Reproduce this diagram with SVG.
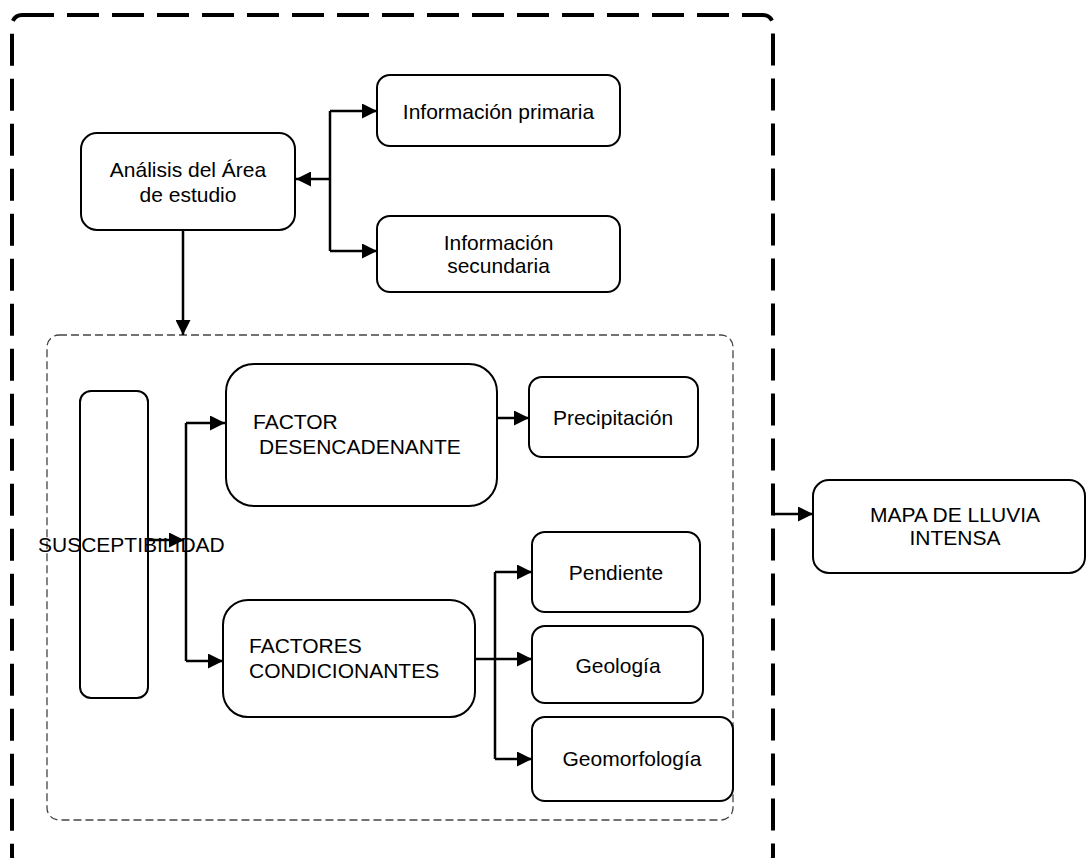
<svg xmlns="http://www.w3.org/2000/svg" width="1086" height="858" viewBox="0 0 1086 858">
<style>
.node{fill:#fff;stroke:#000;stroke-width:2}
.t{font-family:"Liberation Sans",Arial,sans-serif;font-size:21px;fill:#000}
.c{text-anchor:middle}
.con{fill:none;stroke:#000;stroke-width:2.5}
</style>
<defs>
<marker id="ah" markerUnits="userSpaceOnUse" markerWidth="15" markerHeight="15" refX="15" refY="7.5" orient="auto">
<path d="M0,0 L15,7.5 L0,15 z" fill="#000"/>
</marker>
</defs>
<rect width="1086" height="858" fill="#fff"/>
<g id="outer">
<rect x="12" y="15" width="761" height="851" rx="10" fill="none" stroke="#000" stroke-width="4" stroke-dasharray="32 13"/>
</g>
<g id="inner">
<rect x="47" y="335" width="686" height="485" rx="12" fill="none" stroke="#444" stroke-width="1.3" stroke-dasharray="8 4"/>
</g>
<g id="connectors">
<path class="con" d="M330 179 L296 179" marker-end="url(#ah)"/>
<path class="con" d="M330 111 L330 251"/>
<path class="con" d="M330 111 L377 111" marker-end="url(#ah)"/>
<path class="con" d="M330 251 L377 251" marker-end="url(#ah)"/>
<path class="con" d="M183 230 L183 335" marker-end="url(#ah)"/>
<path class="con" d="M148 540 L184 540" marker-end="url(#ah)"/>
<path class="con" d="M186 423 L186 661"/>
<path class="con" d="M186 423 L225 423" marker-end="url(#ah)"/>
<path class="con" d="M186 661 L223 661" marker-end="url(#ah)"/>
<path class="con" d="M497 418 L529 418" marker-end="url(#ah)"/>
<path class="con" d="M475 659 L532 659" marker-end="url(#ah)"/>
<path class="con" d="M495 572 L495 759"/>
<path class="con" d="M495 572 L532 572" marker-end="url(#ah)"/>
<path class="con" d="M495 759 L532 759" marker-end="url(#ah)"/>
<path class="con" d="M773 514 L813 514" marker-end="url(#ah)"/>
</g>
<g id="analisis">
<rect class="node" x="81" y="133" width="214" height="97" rx="16"/>
<text class="t c" x="188" y="177">Análisis del Área</text>
<text class="t c" x="188" y="202">de estudio</text>
</g>
<g id="info-primaria">
<rect class="node" x="377" y="75" width="243" height="71" rx="13"/>
<text class="t c" x="498.5" y="119">Información primaria</text>
</g>
<g id="info-secundaria">
<rect class="node" x="377" y="216" width="243" height="76" rx="13"/>
<text class="t c" x="498.5" y="250">Información</text>
<text class="t c" x="498.5" y="273">secundaria</text>
</g>
<g id="susceptibilidad">
<rect class="node" x="80" y="391" width="68" height="307" rx="11"/>
<text class="t" x="38" y="552">SUSCEPTIBILIDAD</text>
</g>
<g id="factor-desencadenante">
<rect class="node" x="226" y="364" width="271" height="142" rx="28"/>
<text class="t" x="253" y="429">FACTOR</text>
<text class="t" x="259" y="454">DESENCADENANTE</text>
</g>
<g id="precipitacion">
<rect class="node" x="529" y="377" width="169" height="80" rx="13"/>
<text class="t c" x="613" y="425">Precipitación</text>
</g>
<g id="factores-condicionantes">
<rect class="node" x="223" y="600" width="252" height="117" rx="25"/>
<text class="t" x="249" y="653">FACTORES</text>
<text class="t" x="249" y="678">CONDICIONANTES</text>
</g>
<g id="pendiente">
<rect class="node" x="532" y="532" width="168" height="80" rx="13"/>
<text class="t c" x="616" y="580">Pendiente</text>
</g>
<g id="geologia">
<rect class="node" x="532" y="626" width="171" height="77" rx="13"/>
<text class="t c" x="618" y="673">Geología</text>
</g>
<g id="geomorfologia">
<rect class="node" x="532" y="717" width="201" height="84" rx="13"/>
<text class="t c" x="632" y="766">Geomorfología</text>
</g>
<g id="mapa">
<rect class="node" x="813" y="480" width="272" height="93" rx="16"/>
<text class="t c" x="955" y="522">MAPA DE LLUVIA</text>
<text class="t c" x="955" y="545">INTENSA</text>
</g>
</svg>
